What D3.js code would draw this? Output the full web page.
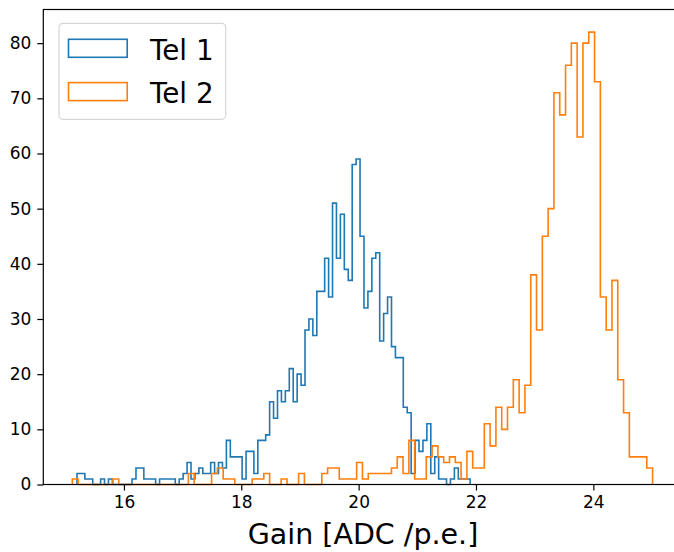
<!DOCTYPE html>
<html>
<head>
<meta charset="utf-8">
<script src="https://cdn.jsdelivr.net/npm/d3@7"></script>
<style>
  html, body { margin: 0; padding: 0; background: #fff; }
  svg { display: block; font-family: "DejaVu Sans", sans-serif; }
</style>
</head>
<body>
<svg id="chart" width="674" height="552"></svg>
<script>
// ---- data ----
const seriesNames = ["Tel 1", "Tel 2"];
const seriesColors = ["#1f77b4", "#ff7f0e"];
// bin ranges [first edge, last edge], 100 equal bins each
const tel1Range = [15.20, 21.90];
const tel2Range = [15.12, 25.01];
const tel1Counts = [
  2,2,1,1,0,0,1,0,1,0,
  0,0,0,0,1,3,3,1,1,1,
  0,1,1,1,1,0,1,2,4,1,
  2,3,2,2,4,2,4,3,8,5,
  5,5,1,6,6,2,8,8,9,15,
  12,17,15,17,21,15,20,18,28,30,
  27,35,35,41,34,51,41,49,39,37,
  58,59,45,32,35,41,42,26,31,34,
  25,23,23,14,13,2,8,6,8,11,
  2,5,1,1,0,1,3,1,1,1
];
const tel2Counts = [
  1,0,0,0,0,0,0,1,0,0,
  0,0,0,0,0,0,0,0,0,0,
  2,0,0,0,2,3,1,1,0,0,
  0,1,1,2,0,0,1,0,0,2,
  0,0,0,2,3,3,1,1,1,4,
  1,2,2,2,2,3,5,2,8,1,
  1,5,7,5,4,5,4,1,6,3,
  3,11,7,14,10,14,19,13,18,38,
  28,45,50,71,67,76,80,63,80,82,
  73,34,28,37,19,13,5,5,5,3
];
const xTicks = [16, 18, 20, 22, 24];
const yTicks = [0, 10, 20, 30, 40, 50, 60, 70, 80];
const xLabel = "Gain [ADC /p.e.]";

// ---- layout ----
const svg = d3.select("#chart");
const plot = { left: 43.3, top: 9.5, right: 681.6, bottom: 484.5 };

const x = d3.scaleLinear().domain([14.6255, 25.5045]).range([plot.left, plot.right]);
const y = d3.scaleLinear().domain([0, 86.1]).range([plot.bottom, plot.top]);

function stepPath(range, counts) {
  const n = counts.length;
  const w = (range[1] - range[0]) / n;
  const pts = [[range[0], 0]];
  counts.forEach((c, i) => {
    pts.push([range[0] + i * w, c]);
    pts.push([range[0] + (i + 1) * w, c]);
  });
  pts.push([range[1], 0]);
  return d3.line().x(d => x(d[0])).y(d => y(d[1]))(pts);
}

const hists = [[tel1Range, tel1Counts], [tel2Range, tel2Counts]];
svg.append("g").selectAll("path")
  .data(hists)
  .join("path")
  .attr("d", d => stepPath(d[0], d[1]))
  .attr("fill", "none")
  .attr("stroke", (d, i) => seriesColors[i])
  .attr("stroke-width", 1.6)
  .attr("stroke-linejoin", "miter");

// ---- axes ----
const xAxis = d3.axisBottom(x).tickValues(xTicks).tickSize(6).tickPadding(5).tickFormat(d3.format("d"));
const gx = svg.append("g").attr("transform", `translate(0,${plot.bottom})`).call(xAxis);
gx.select(".domain").remove();
gx.selectAll("line").attr("stroke", "#000").attr("stroke-width", 1.2);
gx.selectAll("text").attr("font-size", 17).attr("fill", "#000").attr("font-family", "DejaVu Sans");

const yAxis = d3.axisLeft(y).tickValues(yTicks).tickSize(6).tickPadding(6).tickFormat(d3.format("d"));
const gy = svg.append("g").attr("transform", `translate(${plot.left},0)`).call(yAxis);
gy.select(".domain").remove();
gy.selectAll("line").attr("stroke", "#000").attr("stroke-width", 1.2);
gy.selectAll("text").attr("font-size", 17).attr("fill", "#000").attr("font-family", "DejaVu Sans");

// spines
const spines = svg.append("g").attr("stroke", "#000").attr("stroke-width", 1.2).attr("fill", "none");
spines.append("rect")
  .attr("x", plot.left).attr("y", plot.top)
  .attr("width", plot.right - plot.left).attr("height", plot.bottom - plot.top);

// x label
svg.append("text")
  .attr("x", 363)
  .attr("y", 544)
  .attr("text-anchor", "middle")
  .attr("font-size", 28.5)
  .attr("fill", "#000")
  .text(xLabel);

// ---- legend ----
const lg = svg.append("g");
lg.append("rect")
  .attr("x", 59).attr("y", 23.3).attr("width", 166.7).attr("height", 96)
  .attr("rx", 4).attr("ry", 4)
  .attr("fill", "#fff").attr("fill-opacity", 0.8)
  .attr("stroke", "#d6d6d6").attr("stroke-width", 1.2);
const items = lg.selectAll("g.item").data(seriesNames).join("g")
  .attr("class", "item")
  .attr("transform", (d, i) => `translate(0,${i * 43.3})`);
items.append("rect")
  .attr("x", 68.5).attr("y", 39.3).attr("width", 58.7).attr("height", 18)
  .attr("fill", "none")
  .attr("stroke", (d, i) => seriesColors[i]).attr("stroke-width", 1.6);
items.append("text")
  .attr("x", 150).attr("y", 59.5)
  .attr("font-size", 27.8)
  .attr("fill", "#000")
  .text(d => d);
</script>
</body>
</html>
